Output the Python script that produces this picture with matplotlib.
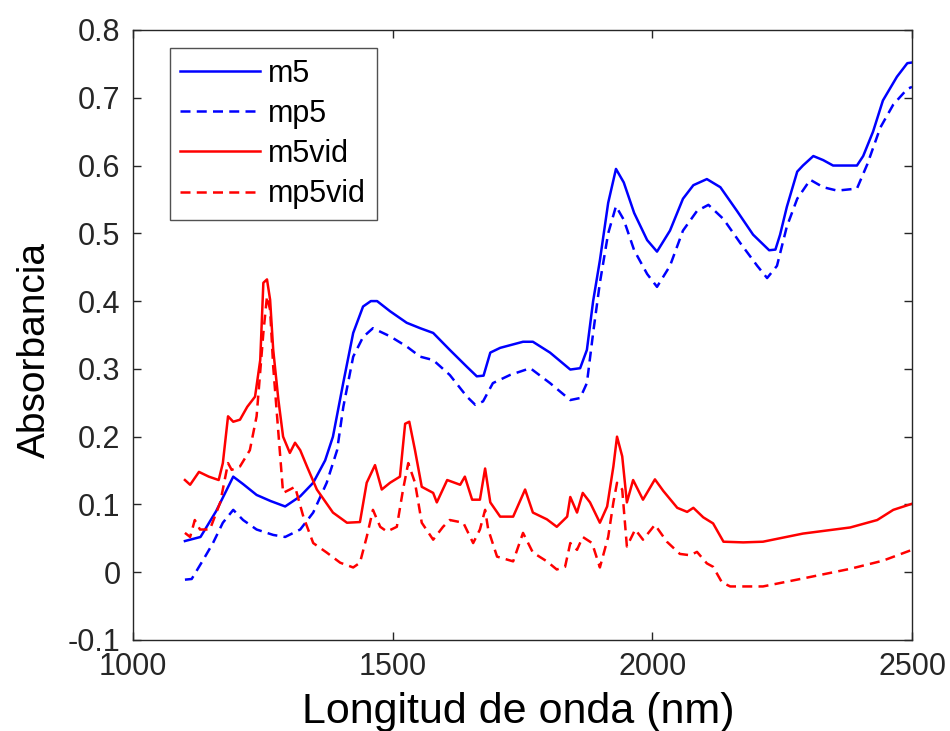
import matplotlib
matplotlib.use("Agg")
import matplotlib.pyplot as plt

plt.rcParams['font.family'] = ['Liberation Sans', 'DejaVu Sans']

# m5 (azul, continua)
m5_x = [1100, 1130, 1160, 1193, 1212, 1238, 1265, 1293, 1322, 1347, 1370, 1385, 1405, 1424,
        1443, 1458, 1470, 1495, 1527, 1553, 1578, 1610, 1643, 1662, 1675, 1688, 1707, 1751,
        1770, 1803, 1842, 1861, 1874, 1886, 1899, 1915, 1930, 1945, 1965, 1990, 2009, 2034,
        2059, 2079, 2105, 2131, 2163, 2194, 2225, 2237, 2246, 2259, 2279, 2290, 2310, 2329,
        2348, 2394, 2406, 2425, 2444, 2471, 2491, 2500]
m5_y = [0.046, 0.052, 0.090, 0.141, 0.130, 0.114, 0.105, 0.097, 0.112, 0.132, 0.165, 0.200,
        0.280, 0.353, 0.392, 0.400, 0.400, 0.385, 0.368, 0.360, 0.353, 0.328, 0.303, 0.289,
        0.290, 0.324, 0.331, 0.340, 0.340, 0.324, 0.299, 0.301, 0.328, 0.400, 0.460, 0.545,
        0.595, 0.575, 0.530, 0.490, 0.473, 0.504, 0.551, 0.571, 0.580, 0.568, 0.533, 0.498,
        0.475, 0.476, 0.498, 0.539, 0.591, 0.600, 0.614, 0.608, 0.600, 0.600, 0.614, 0.650,
        0.696, 0.731, 0.751, 0.752]

# mp5 (azul, discontinua)
mp5_x = [1100, 1113, 1135, 1154, 1173, 1193, 1212, 1238, 1270, 1293, 1322, 1347, 1373, 1393,
         1405, 1424, 1443, 1462, 1495, 1527, 1553, 1578, 1610, 1643, 1659, 1674, 1693, 1726,
         1765, 1803, 1842, 1861, 1874, 1886, 1899, 1915, 1930, 1945, 1965, 1990, 2009, 2034,
         2059, 2086, 2108, 2137, 2169, 2202, 2221, 2240, 2259, 2279, 2304, 2329, 2356, 2394,
         2414, 2439, 2464, 2491, 2500]
mp5_y = [-0.011, -0.010, 0.018, 0.043, 0.073, 0.092, 0.077, 0.063, 0.055, 0.052, 0.063,
         0.088, 0.132, 0.180, 0.244, 0.318, 0.347, 0.360, 0.348, 0.333, 0.318, 0.313, 0.291,
         0.259, 0.247, 0.252, 0.279, 0.291, 0.301, 0.279, 0.254, 0.257, 0.279, 0.353, 0.427,
         0.500, 0.540, 0.520, 0.475, 0.440, 0.421, 0.452, 0.504, 0.533, 0.542, 0.521, 0.486,
         0.452, 0.434, 0.452, 0.510, 0.551, 0.579, 0.568, 0.563, 0.566, 0.602, 0.656, 0.690,
         0.713, 0.716]

# m5vid (rojo, continua)
m5vid_x = [1100, 1110, 1127, 1146, 1165, 1173, 1183, 1193, 1206, 1220, 1235, 1245, 1251,
           1258, 1264, 1270, 1280, 1289, 1302, 1312, 1322, 1335, 1354, 1385, 1412, 1437,
           1450, 1466, 1479, 1495, 1514, 1524, 1532, 1543, 1556, 1578, 1585, 1605, 1630,
           1639, 1653, 1668, 1678, 1688, 1707, 1732, 1755, 1770, 1797, 1816, 1836, 1842,
           1855, 1866, 1880, 1899, 1913, 1925, 1932, 1942, 1951, 1963, 1982, 2005, 2021,
           2048, 2067, 2079, 2098, 2117, 2137, 2175, 2213, 2290, 2381, 2433, 2464, 2500]
m5vid_y = [0.136, 0.129, 0.148, 0.141, 0.136, 0.161, 0.230, 0.222, 0.225, 0.244, 0.259,
           0.313, 0.427, 0.432, 0.402, 0.328, 0.254, 0.200, 0.176, 0.191, 0.180, 0.156,
           0.122, 0.088, 0.073, 0.074, 0.132, 0.158, 0.122, 0.132, 0.141, 0.219, 0.222,
           0.180, 0.126, 0.117, 0.103, 0.136, 0.129, 0.141, 0.107, 0.107, 0.153, 0.103,
           0.082, 0.082, 0.122, 0.088, 0.078, 0.067, 0.082, 0.111, 0.088, 0.117, 0.103,
           0.073, 0.097, 0.156, 0.200, 0.171, 0.103, 0.136, 0.107, 0.137, 0.120, 0.095,
           0.089, 0.095, 0.081, 0.072, 0.045, 0.044, 0.045, 0.057, 0.066, 0.077, 0.092,
           0.101]

# mp5vid (rojo, discontinua)
mp5vid_x = [1100, 1110, 1119, 1129, 1148, 1168, 1183, 1190, 1206, 1225, 1238, 1251, 1258,
            1264, 1270, 1280, 1289, 1302, 1312, 1328, 1347, 1373, 1399, 1424, 1437, 1450,
            1462, 1476, 1489, 1508, 1520, 1530, 1543, 1556, 1578, 1597, 1610, 1636, 1655,
            1668, 1678, 1684, 1701, 1732, 1751, 1770, 1797, 1816, 1832, 1842, 1855, 1866,
            1884, 1899, 1915, 1925, 1932, 1942, 1951, 1967, 1982, 2005, 2028, 2053, 2073,
            2086, 2105, 2117, 2134, 2150, 2213, 2285, 2381, 2444, 2500]
mp5vid_y = [0.058, 0.052, 0.077, 0.063, 0.063, 0.103, 0.161, 0.151, 0.156, 0.180, 0.230,
            0.353, 0.407, 0.387, 0.303, 0.205, 0.117, 0.122, 0.126, 0.082, 0.043, 0.029,
            0.014, 0.007, 0.014, 0.052, 0.092, 0.067, 0.060, 0.067, 0.122, 0.161, 0.132,
            0.073, 0.048, 0.067, 0.077, 0.073, 0.043, 0.063, 0.092, 0.063, 0.023, 0.016,
            0.058, 0.029, 0.016, 0.004, 0.008, 0.043, 0.033, 0.052, 0.043, 0.007, 0.052,
            0.103, 0.132, 0.122, 0.038, 0.063, 0.048, 0.070, 0.045, 0.027, 0.025, 0.030,
            0.013, 0.008, -0.015, -0.021, -0.021, -0.010, 0.005, 0.017, 0.033]

x_ticks = [1000, 1500, 2000, 2500]
y_ticks = [-0.1, 0, 0.1, 0.2, 0.3, 0.4, 0.5, 0.6, 0.7, 0.8]
y_labels = ['-0.1', '0', '0.1', '0.2', '0.3', '0.4', '0.5', '0.6', '0.7', '0.8']

fig = plt.figure(figsize=(9.5, 7.31), dpi=100)
ax = fig.add_axes([0.14, 0.1245, 0.82, 0.8345])

dash = (0, (4, 2.5))
ax.plot(m5_x, m5_y, color='#0000ff', lw=1.8, label='m5')
ax.plot(mp5_x, mp5_y, color='#0000ff', lw=1.8, linestyle=dash, label='mp5')
ax.plot(m5vid_x, m5vid_y, color='#ff0000', lw=1.8, label='m5vid')
ax.plot(mp5vid_x, mp5vid_y, color='#ff0000', lw=1.8, linestyle=dash, label='mp5vid')

ax.set_xlim(1000, 2500)
ax.set_ylim(-0.1, 0.8)
ax.set_xticks(x_ticks)
ax.set_yticks(y_ticks)
ax.set_yticklabels(y_labels)
ax.tick_params(direction='in', top=True, right=True, length=6, width=1,
               labelsize=22, colors='#262626')
ax.tick_params(axis='x', pad=9)
ax.tick_params(axis='y', pad=9)
for s in ax.spines.values():
    s.set_linewidth(1)
    s.set_color('#262626')

ax.set_xlabel('Longitud de onda (nm)', fontsize=31)
ax.xaxis.set_label_coords(0.494, -0.136)
ax.xaxis.label.set_va('baseline')
ax.set_ylabel('Absorbancia', fontsize=28)
ax.yaxis.set_label_coords(-0.103, 0.475)

leg = ax.legend(loc='upper left', bbox_to_anchor=(0.047, 0.97), fontsize=22,
                frameon=True, fancybox=False, handlelength=2.6, borderpad=0.35,
                labelspacing=0.33, handletextpad=0.28, borderaxespad=0)
leg.get_frame().set_edgecolor('#262626')
leg.get_frame().set_linewidth(1)

fig.savefig('out.png', dpi=100)
